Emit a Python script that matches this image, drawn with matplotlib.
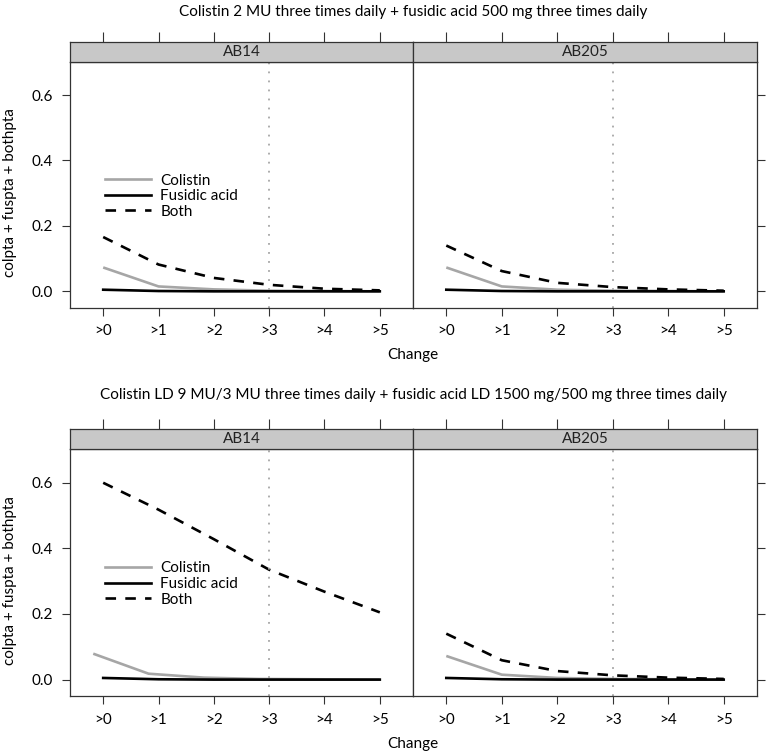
import matplotlib
matplotlib.use("Agg")
import matplotlib.pyplot as plt
import numpy as np

plt.rcParams['font.family'] = ['Lato', 'DejaVu Sans']

categories = [">0", ">1", ">2", ">3", ">4", ">5"]
x_pos = np.arange(len(categories))
panels = ["AB14", "AB205"]
titles = ["Colistin 2 MU three times daily + fusidic acid 500 mg three times daily",
          "Colistin LD 9 MU/3 MU three times daily + fusidic acid LD 1500 mg/500 mg three times daily"]

# top row (regimen 1)
r1_ab14_col = [0.073, 0.015, 0.006, 0.002, 0.001, 0.0]
r1_ab14_fus = [0.005, 0.001, 0.0, 0.0, 0.0, 0.0]
r1_ab14_both = [0.166, 0.082, 0.041, 0.020, 0.008, 0.003]
r1_ab205_col = [0.073, 0.015, 0.005, 0.002, 0.001, 0.0]
r1_ab205_fus = [0.005, 0.001, 0.0, 0.0, 0.0, 0.0]
r1_ab205_both = [0.140, 0.062, 0.026, 0.013, 0.006, 0.002]
# bottom row (regimen 2)
r2_ab14_col_x = [-0.18, 0.82, 1.82, 2.82, 3.82, 4.82, 5.0]
r2_ab14_col = [0.079, 0.018, 0.006, 0.002, 0.001, 0.0, 0.0]
r2_ab14_fus = [0.005, 0.001, 0.0, 0.0, 0.0, 0.0]
r2_ab14_both = [0.600, 0.518, 0.428, 0.335, 0.268, 0.205]
r2_ab205_col = [0.072, 0.015, 0.005, 0.002, 0.001, 0.0]
r2_ab205_fus = [0.005, 0.001, 0.0, 0.0, 0.0, 0.0]
r2_ab205_both = [0.140, 0.059, 0.026, 0.013, 0.006, 0.002]

rows = [
    [(list(x_pos), r1_ab14_col, r1_ab14_fus, r1_ab14_both),
     (list(x_pos), r1_ab205_col, r1_ab205_fus, r1_ab205_both)],
    [(r2_ab14_col_x, r2_ab14_col, r2_ab14_fus, r2_ab14_both),
     (list(x_pos), r2_ab205_col, r2_ab205_fus, r2_ab205_both)],
]

yticks = [0.0, 0.2, 0.4, 0.6]
ytick_labels = ["0.0", "0.2", "0.4", "0.6"]

W, H = 766, 754
fig = plt.figure(figsize=(W / 100, H / 100), dpi=100)

def fx(px):
    return px / W

def fy(py):
    return 1 - py / H

# pixel geometry per row: (strip_top, strip_bottom, panel_bottom, title_y, xlabel_y)
geo = [(41.7, 61.7, 307.7, 12, 355), (429.3, 449.3, 696.0, 395, 744)]
lefts = [70, 413]
rights = [413, 757]
gray = "#a6a6a6"
fs = 11

for r in range(2):
    st, sb, pb, ty, xly = geo[r]
    for c in range(2):
        ax = fig.add_axes([fx(lefts[c]), fy(pb), fx(rights[c] - lefts[c]), (pb - sb) / H])
        xc, col, fus, both = rows[r][c]
        ax.plot(xc, col, color=gray, lw=1.9, solid_capstyle='butt')
        ax.plot(x_pos, fus, color="black", lw=1.9)
        ax.plot(x_pos, both, color="black", lw=1.9, ls=(0, (4, 3.5)))
        ax.axvline(3, color=gray, lw=1.3, ls=(0, (1, 4)))
        ax.set_xlim(-0.6, 5.6)
        ax.set_ylim(-0.05, 0.702)
        ax.set_xticks(x_pos)
        ax.set_xticklabels(categories, fontsize=fs)
        ax.set_yticks(yticks)
        if c == 0:
            ax.set_yticklabels(ytick_labels, fontsize=fs)
            ax.tick_params(axis='y', left=True, right=False, labelleft=True, labelright=False)
        else:
            ax.tick_params(axis='y', left=False, right=True, labelleft=False, labelright=False)
        ax.tick_params(axis='both', direction='out', length=6, width=0.8, color='#333333', pad=6)
        for sp in ax.spines.values():
            sp.set_linewidth(0.9)
            sp.set_color('#333333')
        if c == 0:
            ax.legend(
                [plt.Line2D([], [], color=gray, lw=1.9),
                 plt.Line2D([], [], color='black', lw=1.9),
                 plt.Line2D([], [], color='black', lw=1.9, ls=(0, (4, 3.5)))],
                ["Colistin", "Fusidic acid", "Both"],
                loc='upper left', bbox_to_anchor=(0.085, 0.57),
                frameon=False, fontsize=fs, handlelength=3.0, handletextpad=0.6,
                labelspacing=0.1, borderaxespad=0)
        # strip
        sax = fig.add_axes([fx(lefts[c]), fy(sb), fx(rights[c] - lefts[c]), (sb - st) / H])
        sax.set_facecolor("#c8c8c8")
        sax.set_xlim(-0.6, 5.6)
        sax.set_ylim(0, 1)
        sax.set_xticks(x_pos)
        sax.set_xticklabels([])
        sax.set_yticks([])
        sax.tick_params(axis='x', bottom=False, top=True, direction='out', length=7, width=0.8,
                        color='#333333', labeltop=False, labelbottom=False)
        for sp in sax.spines.values():
            sp.set_linewidth(0.9)
            sp.set_color('#333333')
        sax.text(0.5, 0.5, panels[c], transform=sax.transAxes, ha='center', va='center',
                 fontsize=fs, color='#222222')
    fig.text(fx(413), fy(ty), titles[r], ha='center', va='center', fontsize=fs)
    fig.text(fx(413), fy(xly), "Change", ha='center', va='center', fontsize=fs)
    fig.text(fx(10), fy((sb + pb) / 2 + 8), "colpta + fuspta + bothpta", rotation=90,
             ha='center', va='center', fontsize=fs)

fig.savefig("out.png", dpi=100)
